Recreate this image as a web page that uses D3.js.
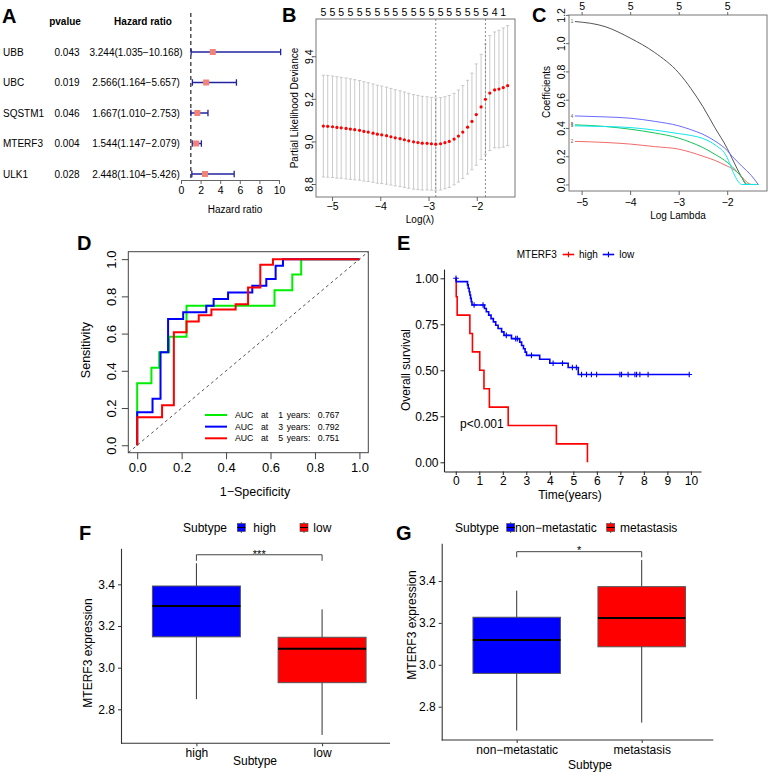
<!DOCTYPE html>
<html lang="en">
<head>
<meta charset="utf-8">
<title>MTERF3 prognostic signature</title>
<style>
    body { margin: 0; background: #fff; }
    svg { display: block; font-family: "Liberation Sans", Arial, Helvetica, sans-serif; }
</style>
</head>
<body>
<svg id="figure" width="768" height="772"></svg>
<script src="https://cdn.jsdelivr.net/npm/d3@7"></script>
<script>
// ---------- A: univariate Cox ----------
const forestGenes = ["UBB", "UBC", "SQSTM1", "MTERF3", "ULK1"];
const forestP = ["0.043", "0.019", "0.046", "0.004", "0.028"];
const forestHR = [3.244, 2.566, 1.667, 1.544, 2.448];
const forestLow = [1.035, 1.164, 1.010, 1.147, 1.104];
const forestHigh = [10.168, 5.657, 2.753, 2.079, 5.426];
const forestTicks = [0, 2, 4, 6, 8, 10];

// ---------- B: cv.glmnet ----------
const cvLogLambda = [-5.18, -5.09, -4.99, -4.90, -4.81, -4.71, -4.62, -4.53, -4.43, -4.34,
    -4.25, -4.15, -4.06, -3.97, -3.87, -3.78, -3.69, -3.59, -3.50, -3.41,
    -3.31, -3.22, -3.13, -3.03, -2.94, -2.85, -2.75, -2.66, -2.57, -2.47,
    -2.38, -2.29, -2.19, -2.10, -2.01, -1.91, -1.82, -1.73, -1.63, -1.54,
    -1.45, -1.36];
const cvDeviance = [9.072, 9.071, 9.069, 9.066, 9.064, 9.061, 9.058, 9.055, 9.052, 9.047,
    9.044, 9.039, 9.034, 9.031, 9.027, 9.022, 9.017, 9.013, 9.008, 9.003,
    8.998, 8.995, 8.992, 8.991, 8.989, 8.987, 8.989, 8.994, 9.000, 9.011,
    9.025, 9.044, 9.067, 9.094, 9.126, 9.162, 9.198, 9.227, 9.242, 9.246,
    9.253, 9.262];
const cvSD = [0.239, 0.239, 0.238, 0.238, 0.237, 0.237, 0.236, 0.235, 0.234, 0.233,
    0.232, 0.231, 0.230, 0.229, 0.228, 0.227, 0.226, 0.225, 0.224, 0.223,
    0.222, 0.221, 0.220, 0.219, 0.218, 0.217, 0.217, 0.216, 0.216, 0.215,
    0.216, 0.218, 0.220, 0.227, 0.238, 0.247, 0.259, 0.270, 0.272, 0.276,
    0.280, 0.282];
const cvNonzero = [5, 5, 5, 5, 5, 5, 5, 5, 5, 5, 5, 5, 5, 5, 5, 5, 5, 5, 5, 5,
    5, 5, 5, 5, 5, 5, 5, 5, 5, 5, 5, 5, 5, 5, 5, 5, 5, 5, 4, 2, 1, 1];
const cvMinIndex = 25;
const cv1seIndex = 36;

// ---------- C: glmnet coefficient paths ----------
const pathLogLambda = [-5.14, -4.5, -4.0, -3.5, -3.0, -2.75, -2.5, -2.25, -2.0, -1.9, -1.8, -1.7, -1.6, -1.5, -1.36];
const coefUBB = [1.153, 1.115, 1.036, 0.935, 0.790, 0.680, 0.550, 0.400, 0.255, 0.185, 0.115, 0.050, 0.0, 0.0, 0.0];
const coefUBC = [0.305, 0.297, 0.286, 0.268, 0.250, 0.228, 0.200, 0.170, 0.130, 0.113, 0.088, 0.055, 0.018, 0.0, 0.0];
const coefSQSTM1 = [0.422, 0.410, 0.391, 0.365, 0.328, 0.298, 0.261, 0.213, 0.157, 0.127, 0.090, 0.050, 0.003, 0.0, 0.0];
const coefMTERF3 = [0.485, 0.478, 0.469, 0.447, 0.415, 0.388, 0.355, 0.307, 0.240, 0.200, 0.165, 0.130, 0.098, 0.062, 0.0];
const coefULK1 = [0.415, 0.410, 0.403, 0.385, 0.360, 0.347, 0.325, 0.280, 0.190, 0.105, 0.035, 0.0, 0.0, 0.0, 0.0];
const pathTopTicks = [-5, -4, -3, -2];
const pathTopLabels = ["5", "5", "5", "5"];

// ---------- D: time-dependent ROC ----------
const rocYears = [1, 3, 5];
const rocAUC = [0.767, 0.792, 0.751];
const roc1Fpr = [0, 0, 0.064, 0.099, 0.144, 0.222, 0.618, 0.698, 0.738, 1];
const roc1Tpr = [0, 0.333, 0.417, 0.5, 0.583, 0.75, 0.833, 0.917, 1, 1];
const roc3Fpr = [0, 0, 0.069, 0.105, 0.139, 0.207, 0.311, 0.344, 0.409, 0.518, 0.581, 0.623, 0.656, 1];
const roc3Tpr = [0, 0.178, 0.25, 0.5, 0.678, 0.714, 0.75, 0.786, 0.821, 0.857, 0.893, 0.964, 1, 1];
const roc5Fpr = [0, 0, 0.112, 0.165, 0.222, 0.277, 0.334, 0.443, 0.499, 0.554, 0.611, 1];
const roc5Tpr = [0, 0.15, 0.215, 0.607, 0.665, 0.698, 0.73, 0.758, 0.847, 0.97, 1, 1];
const rocTicks = [0, 0.2, 0.4, 0.6, 0.8, 1.0];

// ---------- E: Kaplan-Meier ----------
const kmHighTime = [0, 0.02, 0.06, 0.60, 0.71, 1.02, 1.20, 1.43, 2.23, 4.28, 5.60];
const kmHighSurv = [1.0, 0.9, 0.8, 0.7, 0.6, 0.5, 0.4, 0.3, 0.2, 0.1, 0.0];
const kmLowTime = [0, 0.02, 0.50, 0.53, 0.57, 0.60, 0.63, 0.66, 0.69, 1.22, 1.30, 1.40, 1.50,
    1.60, 1.70, 1.80, 1.95, 2.05, 2.37, 2.72, 2.80, 2.88, 2.95, 3.01, 3.57, 4.00, 4.78, 5.21, 9.93];
const kmLowSurv = [1.0, 0.982, 0.964, 0.946, 0.927, 0.909, 0.891, 0.873, 0.855, 0.836, 0.818, 0.800, 0.781,
    0.763, 0.745, 0.727, 0.709, 0.690, 0.672, 0.653, 0.635, 0.617, 0.599, 0.581, 0.560, 0.538, 0.515, 0.477, 0.477];
const kmLowCensor = [0.01, 0.78, 1.16, 2.15, 2.55, 2.62, 3.22, 4.14, 4.54, 4.96, 5.13, 5.35, 5.56,
    5.77, 5.99, 6.98, 7.05, 7.33, 7.62, 7.69, 7.83, 8.18, 9.93];
const kmTimeTicks = [0, 1, 2, 3, 4, 5, 6, 7, 8, 9, 10];
const kmSurvTicks = [0, 0.25, 0.5, 0.75, 1.0];

// ---------- F / G: boxplots [min, q1, median, q3, max] ----------
const riskGroups = ["high", "low"];
const riskStats = [[2.849, 3.148, 3.296, 3.392, 3.501], [2.677, 2.928, 3.091, 3.146, 3.280]];
const metaGroups = ["non\u2212metastatic", "metastasis"];
const metaStats = [[2.686, 2.959, 3.118, 3.227, 3.354], [2.724, 3.086, 3.223, 3.373, 3.500]];
const exprTicks = [2.8, 3.0, 3.2, 3.4];

// =====================================================================
const svg = d3.select("#figure");

function label(g, x, y, txt, opt = {}) {
    const t = g.append("text").attr("x", x).attr("y", y).text(txt)
        .attr("font-size", opt.size || 10)
        .attr("text-anchor", opt.anchor || "start")
        .attr("fill", opt.fill || "#000");
    if (opt.weight) t.attr("font-weight", opt.weight);
    if (opt.rotate) t.attr("transform", `rotate(-90 ${x} ${y})`);
    return t;
}

function styleAxis(g, size, stroke) {
    g.attr("font-family", null).attr("font-size", size);
    g.selectAll("line, path").attr("stroke", stroke);
    g.selectAll("text").attr("fill", "#000");
    return g;
}

// R style left axis: labels rotated parallel to the axis
function rotateLeftLabels(g, offset) {
    g.selectAll(".tick text")
        .attr("transform", "rotate(-90)")
        .attr("x", 0).attr("y", -offset).attr("dy", 0)
        .attr("text-anchor", "middle");
}

const pad4 = ([a, b]) => [a - 0.04 * (b - a), b + 0.04 * (b - a)];

[["A", 2, 23], ["B", 282, 22], ["C", 532, 22], ["D", 77, 250], ["E", 397, 250], ["F", 79, 540], ["G", 396, 540]]
    .forEach(([t, x, y]) => label(svg, x, y, t, { size: 20, weight: "bold" }));

// ---------------- A ----------------
{
    const g = svg.append("g");
    const x = d3.scaleLinear().domain([0, 10]).range([181, 279]);
    const y = d3.scalePoint().domain(forestGenes).range([52, 174]);

    label(g, 65, 24.5, "pvalue", { weight: "bold", anchor: "middle" });
    label(g, 143, 24.5, "Hazard ratio", { weight: "bold", anchor: "middle" });

    forestGenes.forEach((gene, i) => {
        const yy = y(gene) + 3.6;
        label(g, 3, yy, gene);
        label(g, 67, yy, forestP[i], { anchor: "middle" });
        label(g, 136, yy, `${forestHR[i].toFixed(3)}(${forestLow[i].toFixed(3)}\u2212${forestHigh[i].toFixed(3)})`, { anchor: "middle" });
    });

    g.append("line").attr("x1", x(1)).attr("x2", x(1)).attr("y1", 13).attr("y2", 180)
        .attr("stroke", "#444").attr("stroke-width", 1.4).attr("stroke-dasharray", "4,3");

    g.selectAll(".ci").data(forestGenes).join("path")
        .attr("d", (d, i) => {
            const yy = y(d), x0 = x(forestLow[i]), x1 = x(forestHigh[i]);
            return `M${x0},${yy}H${x1}M${x0},${yy - 3.2}V${yy + 3.2}M${x1},${yy - 3.2}V${yy + 3.2}`;
        })
        .attr("stroke", "#2323a0").attr("stroke-width", 1.3).attr("fill", "none");

    g.selectAll(".hr").data(forestGenes).join("rect")
        .attr("x", (d, i) => x(forestHR[i]) - 3).attr("y", d => y(d) - 3)
        .attr("width", 6).attr("height", 6).attr("fill", "#f28379");

    const ax = g.append("g").attr("transform", "translate(0,180)")
        .call(d3.axisBottom(x).tickValues(forestTicks).tickSize(4).tickPadding(3).tickSizeOuter(0));
    styleAxis(ax, 10.5, "#666");
    label(g, 235, 212.5, "Hazard ratio", { anchor: "middle" });
}

// ---------------- B ----------------
{
    const g = svg.append("g");
    const lo = cvDeviance.map((m, i) => m - cvSD[i]);
    const hi = cvDeviance.map((m, i) => m + cvSD[i]);
    const x = d3.scaleLinear().domain(pad4(d3.extent(cvLogLambda))).range([316, 515]);
    const y = d3.scaleLinear().domain(pad4([d3.min(lo), d3.max(hi)])).range([197, 19]);

    g.selectAll(".eb").data(cvLogLambda).join("path")
        .attr("d", (d, i) => {
            const xx = x(d), y0 = y(lo[i]), y1 = y(hi[i]);
            return `M${xx},${y0}V${y1}M${xx - 1.6},${y0}h3.2M${xx - 1.6},${y1}h3.2`;
        })
        .attr("stroke", "#c4c4c4").attr("stroke-width", 0.9).attr("fill", "none");

    [cvMinIndex, cv1seIndex].forEach(i => {
        g.append("line").attr("x1", x(cvLogLambda[i])).attr("x2", x(cvLogLambda[i]))
            .attr("y1", 19).attr("y2", 197)
            .attr("stroke", "#8a8a8a").attr("stroke-dasharray", "2,2").attr("stroke-width", 1);
    });

    g.selectAll(".pt").data(cvLogLambda).join("circle")
        .attr("cx", d => x(d)).attr("cy", (d, i) => y(cvDeviance[i]))
        .attr("r", 1.6).attr("fill", "#ff0000");

    g.append("rect").attr("x", 316).attr("y", 19).attr("width", 199).attr("height", 178)
        .attr("fill", "none").attr("stroke", "#777");

    const bx = g.append("g").attr("transform", "translate(0,197)")
        .call(d3.axisBottom(x).tickValues([-5, -4, -3, -2]).tickFormat(d3.format("d")).tickSize(4).tickPadding(1.5));
    bx.select(".domain").remove();
    styleAxis(bx, 10.5, "#666");

    const ly = g.append("g").attr("transform", "translate(316,0)")
        .call(d3.axisLeft(y).tickValues([8.8, 9.0, 9.2, 9.4]).tickFormat(d3.format(".1f")).tickSize(3));
    ly.select(".domain").remove();
    styleAxis(ly, 10.5, "#666");
    rotateLeftLabels(ly, 3.5);

    g.selectAll(".nz").data(cvLogLambda.filter((d, i) => i % 2 === 0)).join("text")
        .attr("x", d => x(d)).attr("y", 16).attr("text-anchor", "middle").attr("font-size", 10.5)
        .text(d => cvNonzero[cvLogLambda.indexOf(d)]);

    label(g, 420, 223, "Log(\u03bb)", { anchor: "middle" });
    label(g, 297.6, 108, "Partial Likelihood Deviance", { anchor: "middle", rotate: true });
}

// ---------------- C ----------------
{
    const g = svg.append("g");
    const paths = [
        { name: "UBB", id: "1", coef: coefUBB, color: "#555555" },
        { name: "UBC", id: "2", coef: coefUBC, color: "#f26b6b" },
        { name: "SQSTM1", id: "3", coef: coefSQSTM1, color: "#12c65a" },
        { name: "MTERF3", id: "4", coef: coefMTERF3, color: "#6b6bff" },
        { name: "ULK1", id: "5", coef: coefULK1, color: "#11e6ee" }
    ];
    const x = d3.scaleLinear().domain([-5.26, -1.18]).range([569, 767]);
    const allCoef = paths.flatMap(p => p.coef);
    const y = d3.scaleLinear().domain(pad4(d3.extent(allCoef))).range([191, 15]);
    const line = d3.line().x((d, i) => x(pathLogLambda[i])).y(d => y(d)).curve(d3.curveMonotoneX);

    g.selectAll(".path").data(paths).join("path")
        .attr("d", p => line(p.coef)).attr("fill", "none")
        .attr("stroke", p => p.color).attr("stroke-width", 1);

    g.selectAll(".pid").data(paths).join("text")
        .attr("x", x(pathLogLambda[0]) - 1.5).attr("y", p => y(p.coef[0]) + 1.6)
        .attr("text-anchor", "end").attr("font-size", 4.5).attr("fill", "#555")
        .text(p => p.id);

    g.append("rect").attr("x", 569).attr("y", 15).attr("width", 198).attr("height", 176)
        .attr("fill", "none").attr("stroke", "#777");

    const bx = g.append("g").attr("transform", "translate(0,191)")
        .call(d3.axisBottom(x).tickValues([-5, -4, -3, -2]).tickFormat(d3.format("d")).tickSize(4).tickPadding(3.5));
    bx.select(".domain").remove();
    styleAxis(bx, 10.5, "#666");

    const tx = g.append("g").attr("transform", "translate(0,15)")
        .call(d3.axisTop(x).tickValues(pathTopTicks).tickFormat((d, i) => pathTopLabels[i]).tickSize(3).tickPadding(2.5));
    tx.select(".domain").remove();
    styleAxis(tx, 10.5, "#666");

    const ly = g.append("g").attr("transform", "translate(569,0)")
        .call(d3.axisLeft(y).tickValues([0, 0.2, 0.4, 0.6, 0.8, 1.0, 1.2]).tickFormat(d3.format(".1f")).tickSize(3));
    ly.select(".domain").remove();
    styleAxis(ly, 10.5, "#666");
    rotateLeftLabels(ly, 3.8);

    label(g, 678, 218.5, "Log Lambda", { anchor: "middle" });
    label(g, 550.3, 92, "Coefficients", { anchor: "middle", rotate: true });
}

// ---------------- D ----------------
{
    const g = svg.append("g");
    const x = d3.scaleLinear().domain([-0.04, 1.04]).range([128.3, 368.3]);
    const y = d3.scaleLinear().domain([-0.04, 1.04]).range([452.7, 251.7]);
    const series = [
        { fpr: roc1Fpr, tpr: roc1Tpr, color: "#00ee00" },
        { fpr: roc3Fpr, tpr: roc3Tpr, color: "#0000ff" },
        { fpr: roc5Fpr, tpr: roc5Tpr, color: "#ff0000" }
    ];

    g.append("line").attr("x1", x(-0.04)).attr("y1", y(-0.04)).attr("x2", x(1.04)).attr("y2", y(1.04))
        .attr("stroke", "#555").attr("stroke-dasharray", "3,3").attr("stroke-width", 1);

    const step = d3.line().x(d => x(d[0])).y(d => y(d[1])).curve(d3.curveStepAfter);
    g.selectAll(".roc").data(series).join("path")
        .attr("d", s => step(d3.zip(s.fpr, s.tpr)))
        .attr("fill", "none").attr("stroke", s => s.color).attr("stroke-width", 2);

    g.append("rect").attr("x", 128.3).attr("y", 251.7).attr("width", 240).attr("height", 201)
        .attr("fill", "none").attr("stroke", "#444");

    const bx = g.append("g").attr("transform", "translate(0,452.7)")
        .call(d3.axisBottom(x).tickValues(rocTicks).tickFormat(d3.format(".1f")).tickSize(6.5).tickPadding(4));
    bx.select(".domain").remove();
    styleAxis(bx, 13, "#444");

    const ly = g.append("g").attr("transform", "translate(128.3,0)")
        .call(d3.axisLeft(y).tickValues(rocTicks).tickFormat(d3.format(".1f")).tickSize(6.5));
    ly.select(".domain").remove();
    styleAxis(ly, 13, "#444");
    rotateLeftLabels(ly, 12.3);

    const cols = [0, 26, 43.3, 51.7, 82.7];
    series.forEach((s, i) => {
        const yy = 415 + i * 11.65;
        g.append("line").attr("x1", 205).attr("x2", 227).attr("y1", yy).attr("y2", yy)
            .attr("stroke", s.color).attr("stroke-width", 2);
        const t = g.append("text").attr("y", yy + 3).attr("font-size", 8.7);
        ["AUC", "at", rocYears[i], "years:", d3.format(".3f")(rocAUC[i])]
            .forEach((w, j) => t.append("tspan").attr("x", 235 + cols[j]).text(w));
    });

    label(g, 255, 495.7, "1\u2212Specificity", { size: 12.5, anchor: "middle" });
    label(g, 90.4, 350, "Sensitivity", { size: 12.5, anchor: "middle", rotate: true });
}

// ---------------- E ----------------
{
    const g = svg.append("g");
    const x = d3.scaleLinear().domain([-0.5, 10.43]).range([444, 701]);
    const y = d3.scaleLinear().domain([-0.05, 1.05]).range([471.5, 269.1]);
    const step = d3.line().x(d => x(d[0])).y(d => y(d[1])).curve(d3.curveStepAfter);
    const survAt = t => kmLowSurv[d3.bisectRight(kmLowTime, t) - 1];
    const cross = (cx, cy, r) => `M${cx - r},${cy}h${2 * r}M${cx},${cy - r}v${2 * r}`;

    g.append("path").attr("d", step(d3.zip(kmHighTime, kmHighSurv)))
        .attr("fill", "none").attr("stroke", "#ff0000").attr("stroke-width", 1.6);
    g.append("path").attr("d", step(d3.zip(kmLowTime, kmLowSurv)))
        .attr("fill", "none").attr("stroke", "#0000ff").attr("stroke-width", 1.6);
    g.selectAll(".cens").data(kmLowCensor).join("path")
        .attr("d", t => cross(x(t), y(survAt(t)), 2.8))
        .attr("stroke", "#0000ff").attr("stroke-width", 1.1);

    const bx = g.append("g").attr("transform", "translate(0,471.5)")
        .call(d3.axisBottom(x).tickValues(kmTimeTicks).tickSize(3.5).tickPadding(1).tickSizeOuter(0));
    styleAxis(bx, 12, "#222");
    bx.select(".domain").attr("stroke-width", 1.1);

    const ly = g.append("g").attr("transform", "translate(444,0)")
        .call(d3.axisLeft(y).tickValues(kmSurvTicks).tickFormat(d3.format(".2f")).tickSize(3.5).tickPadding(2).tickSizeOuter(0));
    styleAxis(ly, 12, "#222");
    ly.select(".domain").attr("stroke-width", 1.1);

    label(g, 460, 428, "p<0.001", { size: 12 });
    label(g, 570, 498.5, "Time(years)", { size: 12, anchor: "middle" });
    label(g, 410.3, 370, "Overall survival", { size: 12, anchor: "middle", rotate: true });

    // legend
    label(g, 516.7, 258, "MTERF3", { size: 10 });
    [["high", "#ff0000", 562.7, 579], ["low", "#0000ff", 602.7, 619.3]].forEach(([t, c, x0, tx]) => {
        g.append("line").attr("x1", x0).attr("x2", x0 + 11.5).attr("y1", 254.5).attr("y2", 254.5)
            .attr("stroke", c).attr("stroke-width", 1.6);
        g.append("path").attr("d", cross(x0 + 5.75, 254.5, 2.8)).attr("stroke", c).attr("stroke-width", 1.1);
        label(g, tx, 258, t, { size: 10 });
    });
}

// ---------------- F & G ----------------
function boxPanel(o) {
    const g = svg.append("g");
    const x = d3.scalePoint().domain(o.cats).range(o.xRange).padding(0.6);
    const y = d3.scaleLinear().domain(o.yDomain).range(o.yRange);
    const half = x.step() * 0.35;
    const data = o.cats.map((c, i) => ({ cat: c, s: o.stats[i], color: o.colors[i] }));

    g.selectAll(".wh").data(data).join("line")
        .attr("x1", d => x(d.cat)).attr("x2", d => x(d.cat))
        .attr("y1", d => y(d.s[0])).attr("y2", d => y(d.s[4]))
        .attr("stroke", "#333").attr("stroke-width", 1);
    g.selectAll(".bx").data(data).join("rect")
        .attr("x", d => x(d.cat) - half).attr("width", 2 * half)
        .attr("y", d => y(d.s[3])).attr("height", d => y(d.s[1]) - y(d.s[3]))
        .attr("fill", d => d.color).attr("stroke", "#555").attr("stroke-width", 1);
    g.selectAll(".md").data(data).join("line")
        .attr("x1", d => x(d.cat) - half).attr("x2", d => x(d.cat) + half)
        .attr("y1", d => y(d.s[2])).attr("y2", d => y(d.s[2]))
        .attr("stroke", "#000").attr("stroke-width", 2);

    // significance bracket
    const bx0 = x(o.cats[0]), bx1 = x(o.cats[1]);
    g.append("path")
        .attr("d", `M${bx0},${y(o.bracket[1])}V${y(o.bracket[0])}H${bx1}V${y(o.bracket[1])}`)
        .attr("fill", "none").attr("stroke", "#444").attr("stroke-width", 1);
    label(g, (bx0 + bx1) / 2, o.sigY, o.sig, { size: 11, anchor: "middle" });

    const ax = g.append("g").attr("transform", `translate(0,${o.yRange[0]})`)
        .call(d3.axisBottom(x).tickSize(3).tickPadding(2));
    ax.select(".domain").remove();
    styleAxis(ax, 12, "#333");
    g.append("line").attr("x1", o.xRange[0]).attr("x2", o.axisEnd)
        .attr("y1", o.yRange[0]).attr("y2", o.yRange[0]).attr("stroke", "#333").attr("stroke-width", 1.1);

    const ly = g.append("g").attr("transform", `translate(${o.xRange[0]},0)`)
        .call(d3.axisLeft(y).tickValues(exprTicks).tickFormat(d3.format(".1f")).tickSize(3).tickPadding(3).tickSizeOuter(0));
    styleAxis(ly, 12, "#333");
    ly.select(".domain").attr("stroke-width", 1.1);

    label(g, o.xTitle[0], o.xTitle[1], "Subtype", { size: 12, anchor: "middle" });
    label(g, o.yTitle[0], o.yTitle[1], "MTERF3 expression", { size: 12, anchor: "middle", rotate: true });

    // legend
    label(g, o.legend.title, 531.7, "Subtype", { size: 12 });
    o.cats.forEach((c, i) => {
        const kx = o.legend.keys[i];
        g.append("line").attr("x1", kx + 4).attr("x2", kx + 4).attr("y1", 522).attr("y2", 533)
            .attr("stroke", "#333").attr("stroke-width", 0.8);
        g.append("rect").attr("x", kx).attr("y", 523.5).attr("width", 8).attr("height", 8)
            .attr("fill", o.colors[i]).attr("stroke", "#444").attr("stroke-width", 0.6);
        g.append("line").attr("x1", kx).attr("x2", kx + 8).attr("y1", 527.5).attr("y2", 527.5)
            .attr("stroke", "#000").attr("stroke-width", 1);
        label(g, o.legend.texts[i], 531.7, c, { size: 12 });
    });
}

boxPanel({
    cats: riskGroups, stats: riskStats, colors: ["#0000ff", "#ff0000"],
    xRange: [121, 397.5], axisEnd: 390, yDomain: [2.637, 3.573], yRange: [743.3, 548.3],
    bracket: [3.542, 3.513], sig: "***", sigY: 558,
    xTitle: [255, 765.3], yTitle: [92.3, 653],
    legend: { title: 183, keys: [237.3, 300], texts: [253.3, 313.3] }
});

boxPanel({
    cats: metaGroups, stats: metaStats, colors: ["#0000ff", "#ff0000"],
    xRange: [441.7, 716.7], axisEnd: 713.3, yDomain: [2.641, 3.580], yRange: [740, 543.3],
    bracket: [3.540, 3.513], sig: "*", sigY: 554,
    xTitle: [590, 768.5], yTitle: [416, 625],
    legend: { title: 455, keys: [506.7, 606.7], texts: [515, 620] }
});
</script>
</body>
</html>
